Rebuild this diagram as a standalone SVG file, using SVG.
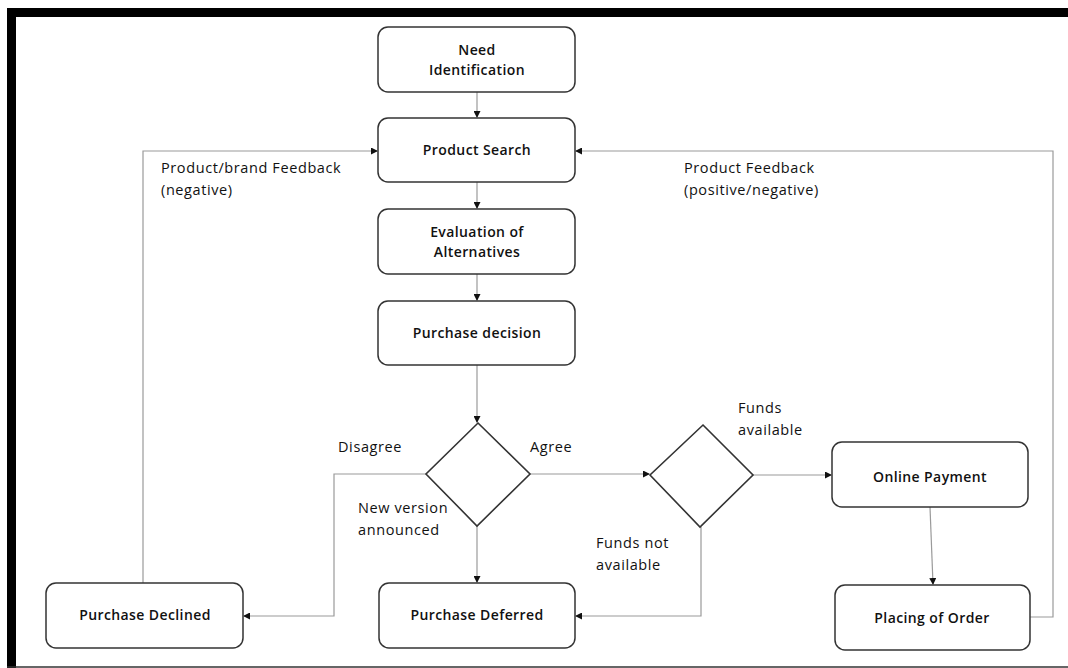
<svg xmlns="http://www.w3.org/2000/svg" width="1068" height="668" viewBox="0 0 1068 668">
<style>
.box{fill:#fff;stroke:#333;stroke-width:1.5}
.dia{fill:#fff;stroke:#333;stroke-width:1.6}
.conn{fill:none;stroke:#9a9a9a;stroke-width:1.2}
.bl{font-family:"Open Sans","Liberation Sans",sans-serif;font-size:14px;font-weight:600;letter-spacing:0.4px;fill:#111;text-anchor:middle}
.lb{font-family:"Open Sans","Liberation Sans",sans-serif;font-size:14.5px;letter-spacing:0.6px;fill:#111}
</style>
<defs>
<marker id="ah" markerWidth="7" markerHeight="7" refX="6" refY="3.5" orient="auto" markerUnits="userSpaceOnUse">
<path d="M0,0 L7,3.5 L0,7 z" fill="#111"/>
</marker>
</defs>
<rect x="0" y="0" width="1068" height="668" fill="#fff"/>
<g id="frame">
<rect x="7" y="8" width="1061" height="9" fill="#000"/>
<rect x="7" y="8" width="9" height="660" fill="#000"/>
<line x1="7" y1="667" x2="1068" y2="667" stroke="#333" stroke-width="1.5"/>
</g>
<g id="connectors">
<path class="conn" d="M477,92 V117" marker-end="url(#ah)"/>
<path class="conn" d="M477,182 V208" marker-end="url(#ah)"/>
<path class="conn" d="M477,274 V300" marker-end="url(#ah)"/>
<path class="conn" d="M477,365 V422" marker-end="url(#ah)"/>
<path class="conn" d="M530,474 H649" marker-end="url(#ah)"/>
<path class="conn" d="M753,475 H831" marker-end="url(#ah)"/>
<path class="conn" d="M930,507 L933,584" marker-end="url(#ah)"/>
<path class="conn" d="M477,526 V582" marker-end="url(#ah)"/>
<path class="conn" d="M426,474 H334 V616 H244" marker-end="url(#ah)"/>
<path class="conn" d="M701,527 V616 H576" marker-end="url(#ah)"/>
<path class="conn" d="M143,583 V151 H377" marker-end="url(#ah)"/>
<path class="conn" d="M1030,617 H1053 V151 H576" marker-end="url(#ah)"/>
</g>
<g id="need">
<rect class="box" x="378" y="27" width="197" height="65" rx="10"/>
<text class="bl" x="477" y="55">Need</text>
<text class="bl" x="477" y="75">Identification</text>
</g>
<g id="search">
<rect class="box" x="378" y="118" width="197" height="64" rx="10"/>
<text class="bl" x="477" y="155">Product Search</text>
</g>
<g id="evaluation">
<rect class="box" x="378" y="209" width="197" height="65" rx="10"/>
<text class="bl" x="477" y="237">Evaluation of</text>
<text class="bl" x="477" y="257">Alternatives</text>
</g>
<g id="decision">
<rect class="box" x="378" y="301" width="197" height="64" rx="10"/>
<text class="bl" x="477" y="338">Purchase decision</text>
</g>
<g id="agree-diamond">
<polygon class="dia" points="478,423 530,474 477,526 426,474"/>
</g>
<g id="funds-diamond">
<polygon class="dia" points="703,425 753,475 700,527 650,475"/>
</g>
<g id="online-payment">
<rect class="box" x="832" y="442" width="196" height="65" rx="10"/>
<text class="bl" x="930" y="482">Online Payment</text>
</g>
<g id="placing-order">
<rect class="box" x="835" y="585" width="195" height="65" rx="10"/>
<text class="bl" x="932" y="623">Placing of Order</text>
</g>
<g id="declined">
<rect class="box" x="46" y="583" width="197" height="65" rx="10"/>
<text class="bl" x="145" y="620">Purchase Declined</text>
</g>
<g id="deferred">
<rect class="box" x="379" y="583" width="196" height="65" rx="10"/>
<text class="bl" x="477" y="620">Purchase Deferred</text>
</g>
<g id="labels">
<text class="lb" x="161" y="173">Product/brand Feedback</text>
<text class="lb" x="161" y="195">(negative)</text>
<text class="lb" x="684" y="173">Product Feedback</text>
<text class="lb" x="684" y="195">(positive/negative)</text>
<text class="lb" x="338" y="452">Disagree</text>
<text class="lb" x="530" y="452">Agree</text>
<text class="lb" x="358" y="513">New version</text>
<text class="lb" x="358" y="535">announced</text>
<text class="lb" x="738" y="413">Funds</text>
<text class="lb" x="738" y="435">available</text>
<text class="lb" x="596" y="548">Funds not</text>
<text class="lb" x="596" y="570">available</text>
</g>
</svg>
